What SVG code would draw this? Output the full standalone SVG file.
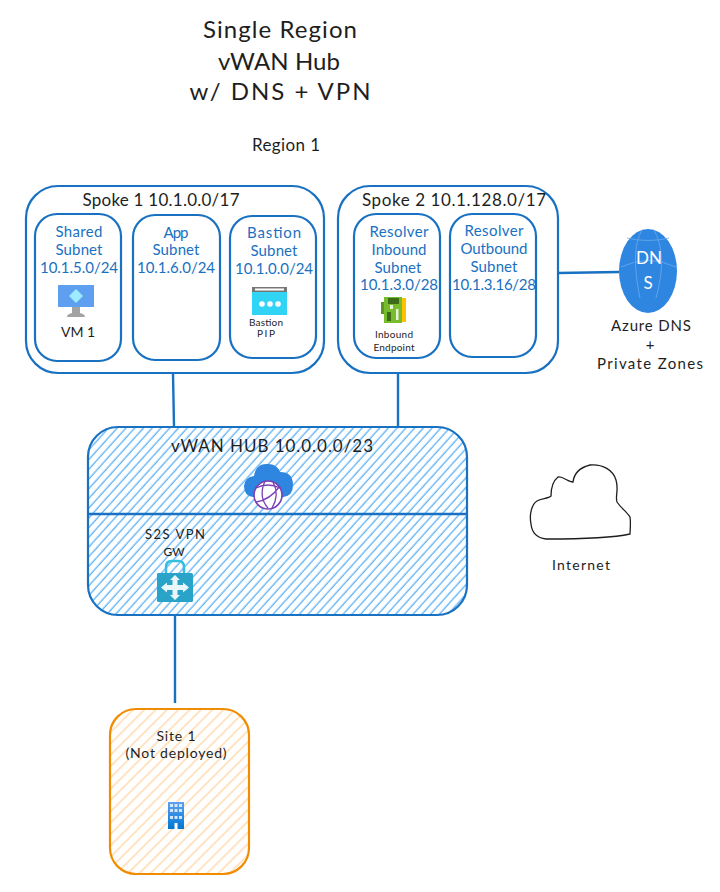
<svg xmlns="http://www.w3.org/2000/svg" width="720" height="892" viewBox="0 0 720 892">
<style>
text{font-family:"Lato","Open Sans","Liberation Sans",sans-serif;fill:#1e1e1e;text-anchor:middle}
.t{font-size:24px}.m{font-size:17px}.s{font-size:15px}.x{font-size:10px}
.b{fill:#1971c2;font-size:15px}
.box{fill:#fff;stroke:#1971c2;stroke-width:2.2}
.con{stroke:#1971c2;stroke-width:2.4;fill:none}
</style>
<defs>
<pattern id="hb" width="6.5" height="6.5" patternUnits="userSpaceOnUse" patternTransform="rotate(-48)"><rect width="6.5" height="6.5" fill="#fff"/><line x1="0" y1="3" x2="6.5" y2="3" stroke="#4dabf7" stroke-width="1.2"/></pattern>
<pattern id="ho" width="8" height="8" patternUnits="userSpaceOnUse" patternTransform="rotate(-45)"><rect width="8" height="8" fill="#fff"/><line x1="0" y1="4" x2="8" y2="4" stroke="#ffd8a8" stroke-width="1.4"/></pattern>
<linearGradient id="bg" x1="0" y1="0" x2="0" y2="1"><stop offset="0" stop-color="#5ea0ef"/><stop offset="1" stop-color="#0078d4"/></linearGradient>
</defs>
<g id="title">
<text class="t" x="280" y="38" textLength="154" lengthAdjust="spacing">Single Region</text>
<text x="279" y="70" style="font-size:24px" textLength="122" lengthAdjust="spacing">vWAN Hub</text>
<text class="t" x="280" y="100" textLength="181" lengthAdjust="spacing">w/ DNS + VPN</text>
<text class="m" x="286" y="151" font-size="16" textLength="68" lengthAdjust="spacing">Region 1</text>
</g>
<g id="connectors">
<path class="con" d="M173 373L174 427M398 373V427M558 273L619 272M175 600L175 703"/>
</g>
<g id="spoke1">
<rect class="box" x="26" y="186" width="298" height="187" rx="32"/>
<text class="m" x="161" y="206" textLength="157" lengthAdjust="spacing">Spoke 1 10.1.0.0/17</text>
</g>
<g id="shared-subnet">
<rect class="box" x="35" y="214" width="86" height="147" rx="22"/>
<text class="b" x="79" y="237" textLength="47" lengthAdjust="spacing">Shared</text>
<text class="b" x="79" y="255" textLength="47" lengthAdjust="spacing">Subnet</text>
<text class="b" x="79" y="273" textLength="78" lengthAdjust="spacing">10.1.5.0/24</text>
<rect x="58" y="285" width="36" height="22" fill="#5ea0ef"/>
<path d="M76 289L83 296L76 303L69 296Z" fill="#9cebff"/>
<path d="M72 307H80V313Q85 314 85 317H67Q67 314 72 313Z" fill="#a3a3a3"/>
<text x="78" y="337" style="font-size:14px">VM 1</text>
</g>
<g id="app-subnet">
<rect class="box" x="133" y="215" width="87" height="145" rx="22"/>
<text class="b" x="176" y="238" textLength="25" lengthAdjust="spacing">App</text>
<text class="b" x="176" y="255" textLength="47" lengthAdjust="spacing">Subnet</text>
<text class="b" x="176" y="273" textLength="78" lengthAdjust="spacing">10.1.6.0/24</text>
</g>
<g id="bastion-subnet">
<rect class="box" x="230" y="216" width="86" height="142" rx="22"/>
<text class="b" x="274" y="238" textLength="54" lengthAdjust="spacing">Bastion</text>
<text class="b" x="274" y="256" textLength="47" lengthAdjust="spacing">Subnet</text>
<text class="b" x="274" y="274" textLength="78" lengthAdjust="spacing">10.1.0.0/24</text>
<rect x="252" y="287" width="35" height="5" fill="#767676"/>
<rect x="255" y="288.5" width="29" height="2" fill="#fff"/>
<rect x="252" y="292" width="35" height="23" fill="#32d4f5"/>
<circle cx="262" cy="304" r="2.8" fill="#fff"/><circle cx="270" cy="304" r="2.8" fill="#fff"/><circle cx="278" cy="304" r="2.8" fill="#fff"/>
<text class="x" x="266" y="326" textLength="34" lengthAdjust="spacing">Bastion</text>
<text class="x" x="266" y="337" textLength="18" lengthAdjust="spacing">PIP</text>
</g>
<g id="spoke2">
<rect class="box" x="338" y="186" width="220" height="187" rx="32"/>
<text class="m" x="454" y="206" textLength="184" lengthAdjust="spacing">Spoke 2 10.1.128.0/17</text>
</g>
<g id="inbound-subnet">
<rect class="box" x="354" y="214" width="86" height="144" rx="22"/>
<text class="b" x="399" y="237" textLength="59" lengthAdjust="spacing">Resolver</text>
<text class="b" x="399" y="255" textLength="55" lengthAdjust="spacing">Inbound</text>
<text class="b" x="398" y="273" textLength="47" lengthAdjust="spacing">Subnet</text>
<text class="b" x="399" y="290" textLength="78" lengthAdjust="spacing">10.1.3.0/28</text>
<rect x="381" y="302" width="4" height="12" fill="#5e9624"/>
<rect x="384" y="297" width="18" height="26" fill="#76bc2d"/>
<rect x="402" y="298" width="4" height="24" fill="#ffc000"/>
<rect x="388" y="298" width="11" height="6" fill="#3e6b1a"/>
<rect x="387" y="312" width="4" height="9" fill="#3e6b1a"/>
<rect x="396" y="309" width="2.5" height="11" fill="#e8f2d8"/>
<rect x="390" y="305" width="3" height="4" fill="#e8f2d8"/>
<text class="x" x="394" y="338" textLength="38" lengthAdjust="spacing">Inbound</text>
<text class="x" x="394" y="351" textLength="41" lengthAdjust="spacing">Endpoint</text>
</g>
<g id="outbound-subnet">
<rect class="box" x="450" y="214" width="86" height="143" rx="22"/>
<text class="b" x="494" y="236" textLength="59" lengthAdjust="spacing">Resolver</text>
<text class="b" x="494" y="254" textLength="67" lengthAdjust="spacing">Outbound</text>
<text class="b" x="494" y="272" textLength="47" lengthAdjust="spacing">Subnet</text>
<text class="b" x="494" y="290" textLength="84" lengthAdjust="spacing">10.1.3.16/28</text>
</g>
<g id="azure-dns">
<ellipse cx="648" cy="271" rx="29" ry="42" fill="#2f86e0"/>
<path d="M627 238Q648 243 669 238M621 267Q648 254 676 267M642 230Q630 250 640 298M654 230Q668 255 656 298" fill="none" stroke="#6aaaf0" stroke-width="0.8"/>
<text x="649" y="264" style="fill:#fff;font-size:17px" textLength="26" lengthAdjust="spacing">DN</text>
<text x="648" y="289" style="fill:#fff;font-size:17px">S</text>
<text class="s" x="651" y="331" textLength="80" lengthAdjust="spacing">Azure DNS</text>
<text class="s" x="650" y="350">+</text>
<text class="s" x="650" y="369" textLength="106" lengthAdjust="spacing">Private Zones</text>
</g>
<g id="vwan-hub">
<rect x="88" y="427" width="379" height="188" rx="30" fill="url(#hb)" stroke="#1971c2" stroke-width="2.2"/>
<line x1="88" y1="514" x2="467" y2="514" class="con"/>
<text class="m" x="272" y="452" textLength="202" lengthAdjust="spacing">vWAN HUB 10.0.0.0/23</text>
<path d="M253 497Q244 496 244 486Q245 477 254 476Q256 463 268 464Q277 464 280 472Q293 472 293 485Q293 496 283 497Z" fill="#2f86e0"/>
<circle cx="268" cy="495" r="14" fill="#fff" stroke="#7a3fb5" stroke-width="1.6"/>
<path d="M256 488Q268 482 280 488M265 481Q258 497 268 508M273 482Q280 495 272 508M256 502Q270 500 280 486" fill="none" stroke="#7a3fb5" stroke-width="1.3"/>
</g>
<g id="vpn-gw">
<text x="175" y="539" style="font-size:13px" textLength="60" lengthAdjust="spacing">S2S VPN</text>
<text x="174" y="556" style="font-size:12px">GW</text>
<path d="M166 574V567Q166 561 172 561H178Q184 561 184 567V574" fill="none" stroke="#32bedd" stroke-width="2.5"/>
<rect x="157" y="573" width="36" height="29" rx="1.5" fill="#2aa3c9"/>
<path d="M175 575L180 580H177.5V585H183V582.5L189 587.5L183 592.5V590H177.5V595H180L175 600L170 595H172.5V590H167V592.5L161 587.5L167 582.5V585H172.5V580H170Z" fill="#e9f7fb"/>
</g>
<g id="internet">
<path d="M546 539C538 538 532 534 531 524C529 514 532 504 537 501C541 498 548 499 551 496C551 487 553 481 558 477C563 476 568 482 573 482C574 474 578 468 590 465C603 464 613 470 616 480C619 490 615 496 617 502C621 508 627 512 630 517C631 523 630 530 630 534C612 538 570 539 546 539Z" fill="none" stroke="#1e1e1e" stroke-width="1.3"/>
<text x="581" y="570" style="font-size:14px" textLength="58" lengthAdjust="spacing">Internet</text>
</g>
<g id="site1">
<rect x="110" y="709" width="139" height="165" rx="26" fill="url(#ho)" stroke="#f08c00" stroke-width="2.2"/>
<text x="176" y="741" style="font-size:14px" textLength="39" lengthAdjust="spacing">Site 1</text>
<text x="176" y="758" style="font-size:14px" textLength="101" lengthAdjust="spacing">(Not deployed)</text>
<rect x="168" y="802" width="16" height="27" fill="url(#bg)"/>
<g fill="#d5e6fa">
<rect x="170" y="804" width="3" height="3"/><rect x="174.5" y="804" width="3" height="3"/><rect x="179" y="804" width="3" height="3"/>
<rect x="170" y="809" width="3" height="3"/><rect x="174.5" y="809" width="3" height="3"/><rect x="179" y="809" width="3" height="3"/>
<rect x="170" y="816" width="3" height="3"/><rect x="174.5" y="816" width="3" height="3"/><rect x="179" y="816" width="3" height="3"/>
<rect x="174.5" y="823" width="3" height="6" fill="#fff"/>
</g>
</g>
</svg>
